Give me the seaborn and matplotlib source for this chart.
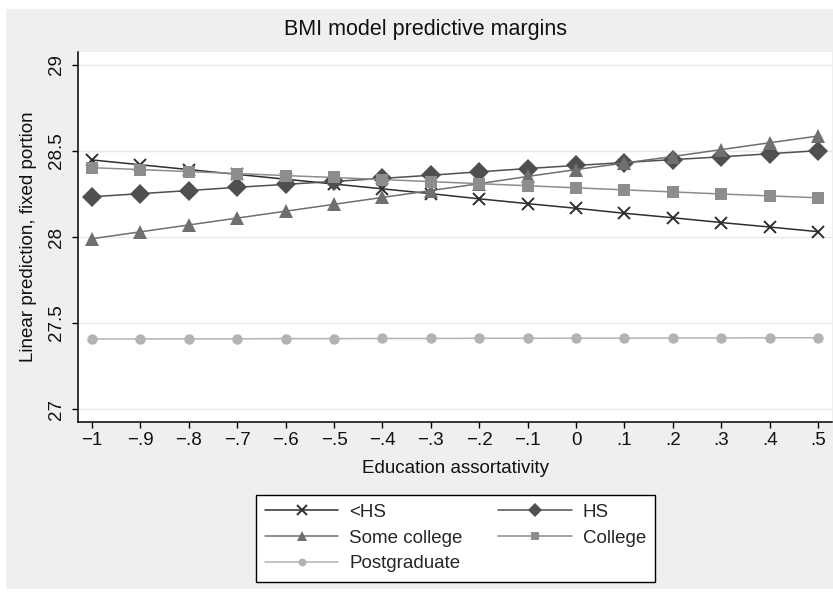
import matplotlib
matplotlib.use("Agg")
import matplotlib.pyplot as plt
import seaborn as sns
import numpy as np
import pandas as pd
from matplotlib.patches import Rectangle

# ---- data ----
x_vals = [-1.0, -0.9, -0.8, -0.7, -0.6, -0.5, -0.4, -0.3, -0.2, -0.1, 0.0, 0.1, 0.2, 0.3, 0.4, 0.5]
lt_hs = [28.448, 28.420, 28.392, 28.364, 28.336, 28.308, 28.280, 28.252, 28.222, 28.194, 28.167, 28.138, 28.112, 28.084, 28.058, 28.031]
hs = [28.234, 28.252, 28.270, 28.289, 28.306, 28.323, 28.341, 28.359, 28.379, 28.398, 28.416, 28.433, 28.450, 28.466, 28.484, 28.502]
some_college = [27.990, 28.030, 28.070, 28.110, 28.150, 28.190, 28.230, 28.270, 28.310, 28.352, 28.392, 28.430, 28.468, 28.508, 28.548, 28.587]
college = [28.403, 28.392, 28.380, 28.369, 28.357, 28.346, 28.334, 28.322, 28.310, 28.298, 28.286, 28.274, 28.262, 28.250, 28.239, 28.228]
postgrad = [27.407, 27.407, 27.408, 27.408, 27.409, 27.409, 27.410, 27.410, 27.411, 27.411, 27.412, 27.412, 27.413, 27.413, 27.414, 27.414]

series_names = ["<HS", "HS", "Some college", "College", "Postgraduate"]
series_values = [lt_hs, hs, some_college, college, postgrad]
x_tick_vals = [-1.0, -0.9, -0.8, -0.7, -0.6, -0.5, -0.4, -0.3, -0.2, -0.1, 0.0, 0.1, 0.2, 0.3, 0.4, 0.5]
x_tick_labels = ["\u22121", "\u2212.9", "\u2212.8", "\u2212.7", "\u2212.6", "\u2212.5", "\u2212.4", "\u2212.3",
                 "\u2212.2", "\u2212.1", "0", ".1", ".2", ".3", ".4", ".5"]
y_tick_vals = [27.0, 27.5, 28.0, 28.5, 29.0]
y_tick_labels = ["27", "27.5", "28", "28.5", "29"]

# ---- styles ----
colors = ["#2e2e2e", "#4f4f4f", "#6f6f6f", "#8d8d8d", "#b3b3b3"]
markers = ["x", "D", "^", "s", "o"]
msizes = [9, 10, 9.5, 8.5, 7.5]
FS = 13.5

sns.set_theme(style="white")
plt.rcParams["font.family"] = ["Liberation Sans", "DejaVu Sans"]

fig = plt.figure(figsize=(8.33, 5.97), dpi=100)
fig.patch.set_facecolor("white")
W, H = 833, 597
fig.patches.append(Rectangle((6 / W, 1 - 589 / H), (833 - 6) / W, (589 - 9) / H,
                             transform=fig.transFigure, facecolor="#efefef",
                             edgecolor="none", zorder=-10))

ax = fig.add_axes([78 / W, 1 - 422 / H, (832 - 78) / W, (422 - 52) / H])
ax.set_facecolor("white")

df = pd.DataFrame({"x": np.tile(x_vals, len(series_names)),
                   "y": np.concatenate(series_values),
                   "group": np.repeat(series_names, len(x_vals))})

for name, col, mk, ms in zip(series_names, colors, markers, msizes):
    sub = df[df["group"] == name]
    kw = dict(markeredgecolor=col, markerfacecolor=col)
    if mk == "x":
        kw["markeredgewidth"] = 1.4
    else:
        kw["markeredgewidth"] = 0.0
    sns.lineplot(data=sub, x="x", y="y", color=col, marker=mk, markersize=ms,
                 linewidth=1.1, label=name, ax=ax, **kw)

# axes limits / ticks
ax.set_xlim(-1 - 14 / 484, 0.5 + 14 / 484)
ax.set_ylim(27 - 13 / 172, 29 + 13 / 172)
ax.set_xticks(x_tick_vals)
ax.set_xticklabels(x_tick_labels, fontsize=FS)
ax.set_yticks(y_tick_vals)
ax.set_yticklabels(y_tick_labels, fontsize=FS, rotation=90, va="center")
ax.tick_params(axis="both", direction="out", length=4, width=1.0, color="black",
               pad=3, labelcolor="#111111")
ax.tick_params(axis="y", pad=5)
ax.tick_params(axis="x", bottom=True)
ax.tick_params(axis="y", left=True)
ax.grid(axis="y", color="#eaeaea", linewidth=1.0)
ax.grid(axis="x", visible=False)
for s in ["top", "right"]:
    ax.spines[s].set_visible(False)
for s in ["left", "bottom"]:
    ax.spines[s].set_visible(True)
    ax.spines[s].set_color("black")
    ax.spines[s].set_linewidth(1.1)

ax.set_xlabel("Education assortativity", fontsize=FS, labelpad=8, color="#111111")
ax.set_ylabel("Linear prediction, fixed portion", fontsize=FS, labelpad=8, color="#111111")
fig.text(425 / W, 1 - 30 / H, "BMI model predictive margins", ha="center", va="center",
         fontsize=15.5, color="#111111")

# legend: row-wise order
handles, labels = ax.get_legend_handles_labels()
order = [0, 2, 4, 1, 3]
leg = ax.legend([handles[i] for i in order], [labels[i] for i in order],
                ncol=2, loc="center", bbox_to_anchor=(455.5 / W, 1 - 538 / H),
                bbox_transform=fig.transFigure, frameon=True, fancybox=False,
                fontsize=FS, handlelength=3.9, handletextpad=0.6, columnspacing=1.9,
                labelspacing=0.45, borderpad=0.5, markerscale=0.75, borderaxespad=0)
leg.get_frame().set_edgecolor("black")
leg.get_frame().set_linewidth(1.0)
leg.get_frame().set_facecolor("white")
leg.get_frame().set_alpha(1.0)

fig.savefig("out.png", dpi=100)
